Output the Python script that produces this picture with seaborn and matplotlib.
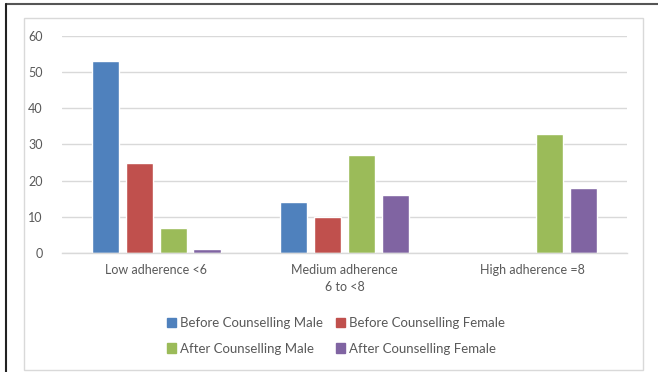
import matplotlib
matplotlib.use("Agg")
import matplotlib.pyplot as plt
import matplotlib.patches as mpatches
import seaborn as sns
import pandas as pd

categories = ["Low adherence <6", "Medium adherence\n6 to <8", "High adherence =8"]
series = ["Before Counselling Male", "Before Counselling Female",
          "After Counselling Male", "After Counselling Female"]
before_male = [53, 14, 0]
before_female = [25, 10, 0]
after_male = [7, 27, 33]
after_female = [1, 16, 18]
yticks = [0, 10, 20, 30, 40, 50, 60]
colors = ["#4F81BD", "#C0504D", "#9BBB59", "#8064A2"]

rows = []
for s, vals in zip(series, [before_male, before_female, after_male, after_female]):
    for c, v in zip(categories, vals):
        rows.append({"category": c, "series": s, "value": v})
df = pd.DataFrame(rows)

sns.set_style("white")
plt.rcParams["font.family"] = ["Lato", "DejaVu Sans"]

W, H = 658, 372
fig = plt.figure(figsize=(W / 100, H / 100), dpi=100)
ax = fig.add_axes([62 / W, (H - 253) / H, (627 - 62) / W, (253 - 36) / H])

sns.barplot(data=df, x="category", y="value", hue="series", order=categories,
            hue_order=series, palette=colors, width=0.72, gap=0.2,
            saturation=1, ax=ax, legend=False, errorbar=None)

ax.set_ylim(0, 60)
ax.set_xlim(-0.5, 2.5)
ax.set_yticks(yticks)
ax.set_yticklabels([str(t) for t in yticks])
ax.yaxis.grid(True, color="#D9D9D9", linewidth=1)
ax.set_axisbelow(True)
for sp in ["top", "right", "left"]:
    ax.spines[sp].set_visible(False)
ax.spines["bottom"].set_color("#D9D9D9")
ax.spines["bottom"].set_linewidth(1)
ax.set_xlabel("")
ax.set_ylabel("")
ax.tick_params(axis="both", length=0, labelsize=9, colors="#595959", pad=8)
ax.tick_params(axis="y", pad=14)
for lbl in ax.get_xticklabels():
    lbl.set_linespacing(1.5)

handles = [mpatches.Patch(color=c, label=s) for c, s in zip(colors, series)]
order = [0, 2, 1, 3]
fig.legend(handles=[handles[i] for i in order], ncol=2, loc="center",
           bbox_to_anchor=(336 / W, (H - 336) / H),
           frameon=False, fontsize=9.5, labelcolor="#595959", handlelength=0.7,
           handleheight=0.7, handletextpad=0.3, columnspacing=1.0, labelspacing=1.0)

# frames
fig.add_artist(mpatches.Rectangle((24 / W, 2 / H), (643 - 24) / W, (370 - 18) / H,
                                  transform=fig.transFigure, fill=False,
                                  edgecolor="#D9D9D9", linewidth=1))
fig.add_artist(plt.Line2D([6 / W, 1], [(H - 4) / H, (H - 4) / H], transform=fig.transFigure,
                          color="#555555", linewidth=1.5))
fig.add_artist(plt.Line2D([6 / W, 6 / W], [0, (H - 4) / H], transform=fig.transFigure,
                          color="#222222", linewidth=1.5))

fig.savefig("out.png", dpi=100)
